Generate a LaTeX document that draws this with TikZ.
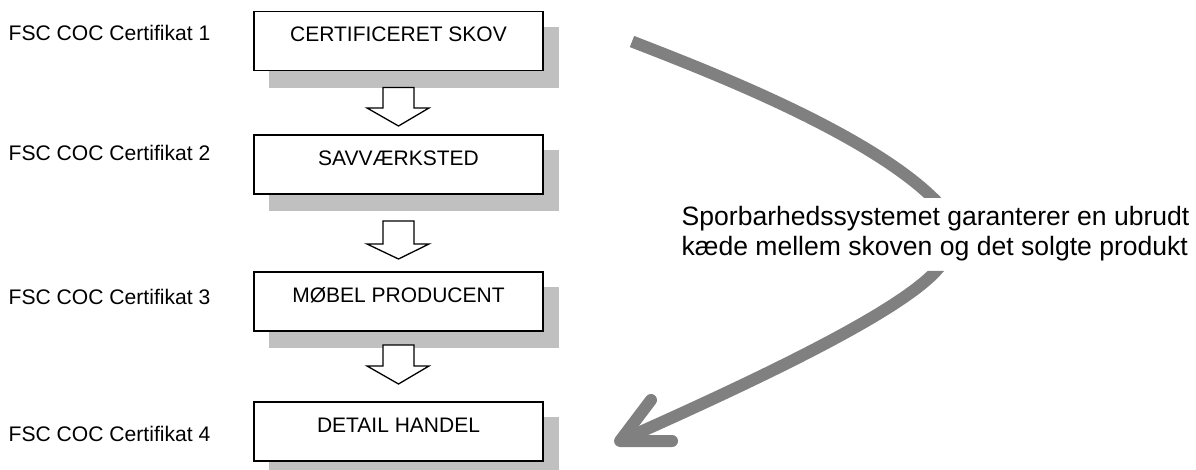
\documentclass[tikz,border=0pt]{standalone}
\usepackage{fontspec}
\setmainfont{Liberation Sans}
\definecolor{shadowgrey}{RGB}{192,192,192}
\definecolor{curvegrey}{RGB}{128,128,128}
\tikzset{
  x=1pt,y=-1pt,
  stagebox/.style={draw=black,line width=1.3pt,fill=white,minimum width=289pt,minimum height=59pt,
    inner sep=0pt,text height=30pt,text depth=28pt,font=\fontsize{21}{24}\selectfont},
  shade box/.style={fill=shadowgrey,draw=none},
  certlabel/.style={anchor=base west,inner sep=0pt,font=\fontsize{21.1}{26}\selectfont},
  hollow arrow/.style={draw=black,line width=1.3pt,fill=white,line join=miter},
  trace/.style={draw=curvegrey,line width=12pt,line cap=round,line join=round},
  notetext/.style={inner sep=0pt,anchor=base west,font=\fontsize{26.55}{30}\selectfont}
}
\newcommand{\hollowdown}[3]{%
  \draw[hollow arrow] (383,#1) -- (414,#1) -- (414,#2) -- (429,#2) -- (398.5,#3) -- (367,#2) -- (383,#2) -- cycle;}
\begin{document}
\begin{tikzpicture}
\useasboundingbox (0,0) rectangle (1196,470);
\begin{scope}
\clip (0,0) rectangle (1196,470);
\fill[shade box] (269,27) rectangle (559,88);
\fill[shade box] (269,150) rectangle (559,211);
\fill[shade box] (269,287) rectangle (559,348);
\fill[shade box] (269,417) rectangle (559,478);
\end{scope}
\node[stagebox] (b1) at (398.5,41) {CERTIFICERET SKOV};
\node[stagebox] (b2) at (398.5,164.5) {SAVVÆRKSTED};
\node[stagebox] (b3) at (398.5,301.5) {MØBEL PRODUCENT};
\node[stagebox] (b4) at (398.5,431.5) {DETAIL HANDEL};
\hollowdown{87.5}{108}{126}
\hollowdown{221}{244}{259}
\hollowdown{345}{366}{384}
\node[certlabel] (c1) at (8.5,41) {FSC COC Certifikat 1};
\node[certlabel] (c2) at (8.5,161) {FSC COC Certifikat 2};
\node[certlabel] (c3) at (8.5,304) {FSC COC Certifikat 3};
\node[certlabel] (c4) at (8.5,441) {FSC COC Certifikat 4};
\coordinate (start) at (632,41.5);
\coordinate (tip) at (620,441);
\coordinate (barbA) at (651,400);
\coordinate (barbB) at (672,441);
\begin{scope}
\clip (0,0) rectangle (1196,198) (0,271) rectangle (1196,470);
\draw[trace,line cap=butt] (start) .. controls (700,68) and (863,130) .. (933,198)
  .. controls (958,222) and (960,245) .. (936,271)
  .. controls (900,310) and (780,370) .. (tip);
\end{scope}
\draw[trace] (barbA) -- (tip) -- (barbB);
\node[notetext] (note1) at (681.5,225.7) {Sporbarhedssystemet garanterer en ubrudt};
\node[notetext] (note2) at (681.5,255.7) {kæde mellem skoven og det solgte produkt};
\end{tikzpicture}
\end{document}
